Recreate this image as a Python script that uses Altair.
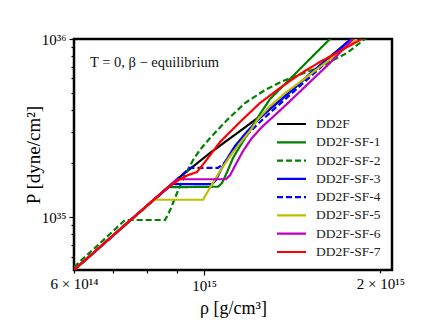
import altair as alt
import pandas as pd

# ---- data (rho in 1e14 g/cm^3, P in 1e35 dyne/cm^2) ----
models = ["DD2F", "DD2F-SF-1", "DD2F-SF-2", "DD2F-SF-3",
          "DD2F-SF-4", "DD2F-SF-5", "DD2F-SF-6", "DD2F-SF-7"]
colors = ["#000000", "#008000", "#008000", "#0000ff",
          "#0000ff", "#bfbf00", "#bf00bf", "#ff0000"]
dashes = [[1, 0], [1, 0], [6, 3], [1, 0], [6, 3], [1, 0], [1, 0], [1, 0]]

rho_dd2f = [6.00, 7.33, 8.85, 9.10, 9.65, 10.24, 10.86, 11.52, 12.22, 12.56, 12.96, 14.02, 15.16, 16.40, 17.75, 18.10]
p_dd2f = [0.504, 0.902, 1.55, 1.68, 1.96, 2.29, 2.64, 3.04, 3.51, 3.74, 4.04, 5.04, 6.36, 7.92, 9.87, 10.40]

rho_sf1 = [6.00, 7.33, 8.68, 10.57, 10.73, 10.95, 11.21, 11.52, 11.98, 12.46, 12.96, 13.75, 14.58, 15.46, 16.40, 16.60]
p_sf1 = [0.504, 0.902, 1.47, 1.48, 1.55, 1.79, 2.15, 2.50, 3.08, 3.79, 4.60, 5.59, 6.79, 8.24, 10.0, 10.40]

rho_sf2 = [6.00, 6.65, 7.33, 8.58, 8.75, 8.99, 9.28, 9.58, 9.84, 10.24, 10.95, 11.75, 12.71, 13.64, 15.77, 17.54, 18.82, 19.20]
p_sf2 = [0.524, 0.714, 0.962, 0.962, 1.09, 1.36, 1.72, 2.09, 2.38, 2.78, 3.51, 4.37, 5.17, 5.81, 6.96, 8.35, 10.0, 10.40]

rho_sf3 = [6.00, 7.33, 8.82, 10.32, 10.48, 10.73, 10.99, 11.29, 11.75, 12.36, 12.96, 14.02, 15.16, 16.40, 17.75, 18.10]
p_sf3 = [0.504, 0.902, 1.53, 1.53, 1.61, 1.89, 2.17, 2.50, 2.93, 3.51, 4.04, 5.04, 6.36, 7.92, 9.87, 10.40]

rho_sf4 = [6.00, 7.33, 8.85, 9.47, 10.57, 10.82, 11.08, 11.43, 11.89, 12.46, 13.06, 14.02, 15.16, 16.40, 17.89, 18.24]
p_sf4 = [0.504, 0.902, 1.55, 1.89, 1.89, 2.01, 2.23, 2.54, 2.93, 3.42, 3.94, 4.85, 6.12, 7.72, 9.87, 10.40]

rho_sf5 = [6.00, 7.33, 8.22, 9.96, 10.16, 10.40, 10.65, 11.08, 11.52, 11.98, 12.36, 12.96, 13.75, 14.58, 15.77, 17.06, 18.10, 18.46]
p_sf5 = [0.504, 0.902, 1.25, 1.25, 1.40, 1.59, 1.81, 2.20, 2.60, 3.04, 3.55, 4.20, 4.97, 5.73, 6.96, 8.45, 9.87, 10.40]

rho_sf6 = [6.00, 7.33, 8.99, 10.90, 11.08, 11.34, 11.66, 12.07, 12.61, 13.22, 14.02, 15.16, 16.40, 17.75, 18.10]
p_sf6 = [0.504, 0.902, 1.63, 1.63, 1.72, 1.99, 2.35, 2.78, 3.25, 3.74, 4.48, 5.73, 7.33, 9.62, 10.26]

rho_sf7 = [6.00, 7.33, 8.68, 9.10, 9.39, 9.73, 10.04, 10.65, 11.52, 12.46, 13.48, 14.58, 15.77, 17.06, 18.46, 18.82]
p_sf7 = [0.504, 0.902, 1.47, 1.63, 1.72, 1.79, 2.04, 2.64, 3.42, 4.37, 5.31, 6.36, 7.43, 8.56, 9.87, 10.26]

rho_all = [rho_dd2f, rho_sf1, rho_sf2, rho_sf3, rho_sf4, rho_sf5, rho_sf6, rho_sf7]
p_all = [p_dd2f, p_sf1, p_sf2, p_sf3, p_sf4, p_sf5, p_sf6, p_sf7]

x_ticks = [6e14, 7e14, 8e14, 9e14, 1e15, 2e15]
y_ticks = [6e34, 7e34, 8e34, 9e34, 1e35, 2e35, 3e35, 4e35, 5e35, 6e35, 7e35, 8e35, 9e35, 1e36]

rows = []
for name, rs, ps in zip(models, rho_all, p_all):
    for i, (r, p) in enumerate(zip(rs, ps)):
        rows.append({"model": name, "rho": r * 1e14, "P": p * 1e35, "idx": i})
df = pd.DataFrame(rows)
legend_df = pd.DataFrame({"model": models})

FONT = "Liberation Serif"

color_scale = alt.Scale(domain=models, range=colors)
dash_scale = alt.Scale(domain=models, range=dashes)

x_axis = alt.Axis(
    values=x_ticks,
    labelExpr="datum.value == 6e14 ? '6 × 10¹⁴' : datum.value == 1e15 ? '10¹⁵' : datum.value == 2e15 ? '2 × 10¹⁵' : ''",
    tickSize={"condition": {"test": "datum.value == 1e15", "value": 5}, "value": 3},
    grid=False, domain=False, labelOverlap=False, labelFlush=False,
    labelFontSize=15, titleFontSize=18, labelPadding=3, titlePadding=6,
    tickColor="black", tickWidth=1.2, labelColor="black", titleColor="black",
    titleFontWeight="normal",
)
y_axis = alt.Axis(
    values=y_ticks,
    labelExpr="datum.value == 1e35 ? '10³⁵' : datum.value == 1e36 ? '10³⁶' : ''",
    tickSize={"condition": {"test": "datum.value == 1e35 || datum.value == 1e36", "value": 5}, "value": 3},
    grid=False, domain=False, labelOverlap=False, labelFlush=False,
    labelFontSize=15, titleFontSize=19, labelPadding=3, titlePadding=-2,
    tickColor="black", tickWidth=1.2, labelColor="black", titleColor="black",
    titleFontWeight="normal",
)

lines = alt.Chart(df).mark_line(strokeWidth=2.2, clip=True).encode(
    x=alt.X("rho:Q", scale=alt.Scale(type="log", domain=[6e14, 2.093e15]),
            axis=x_axis, title="ρ [g/cm³]"),
    y=alt.Y("P:Q", scale=alt.Scale(type="log", domain=[5.04e34, 1e36]),
            axis=y_axis, title="P [dyne/cm²]"),
    color=alt.Color("model:N", scale=color_scale, legend=None),
    strokeDash=alt.StrokeDash("model:N", scale=dash_scale, legend=None),
    order="idx:Q",
)

# legend drawn as marks, rows placed by a point scale
row_scale = alt.Scale(type="point", domain=models, range=[85, 213], padding=0)

leg_lines = alt.Chart(legend_df).mark_rule(strokeWidth=2.2).encode(
    x=alt.value(203), x2=alt.value(232),
    y=alt.Y("model:N", scale=row_scale, axis=None),
    color=alt.Color("model:N", scale=color_scale, legend=None),
    strokeDash=alt.StrokeDash("model:N", scale=dash_scale, legend=None),
)
leg_text = alt.Chart(legend_df).mark_text(
    align="left", baseline="middle", fontSize=13.5, font=FONT, color="#222222"
).encode(
    x=alt.value(242),
    y=alt.Y("model:N", scale=row_scale, axis=None),
    text="model:N",
)

note = alt.Chart(pd.DataFrame({"t": ["T = 0,  β − equilibrium"]})).mark_text(
    align="left", baseline="alphabetic", fontSize=14.5, font=FONT, color="#111111"
).encode(text="t:N", x=alt.value(16), y=alt.value(28))

chart = alt.layer(lines, note, leg_lines, leg_text).resolve_scale(
    y="independent"
).properties(
    width=318, height=231,
    padding={"left": 66, "top": 31, "right": 30, "bottom": 56},
    autosize="none",
).configure_view(stroke="black", strokeWidth=2.5, strokeOpacity=1).configure_axis(
    labelFont=FONT, titleFont=FONT
)

chart.save("out.html", embed_options={"renderer": "svg", "actions": False})
